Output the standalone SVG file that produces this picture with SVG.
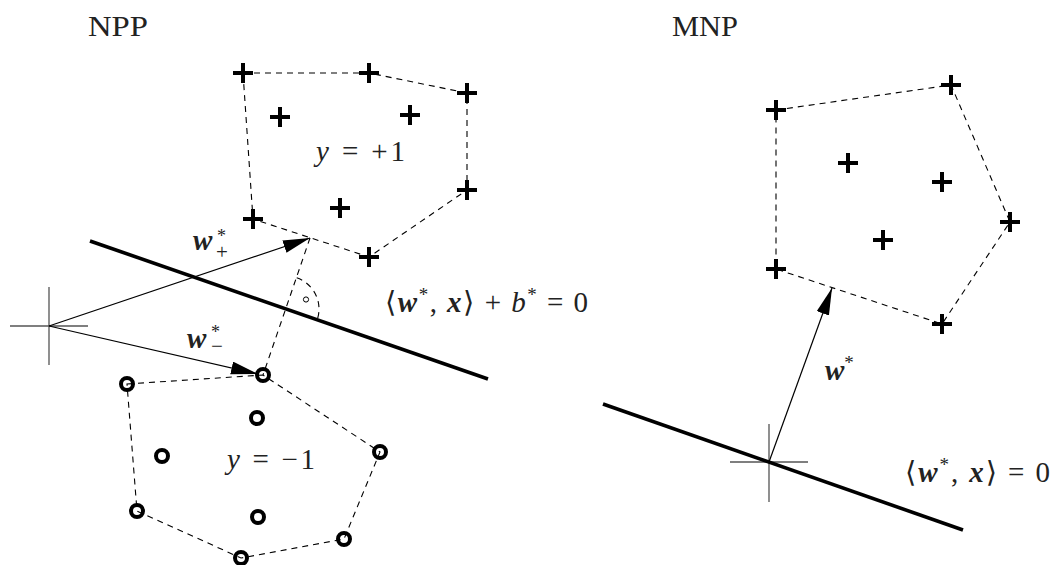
<svg xmlns="http://www.w3.org/2000/svg" xmlns:xlink="http://www.w3.org/1999/xlink" width="1053" height="565" viewBox="0 0 1053 565">
<style>
.t{font-family:"Liberation Serif","DejaVu Serif",serif;fill:#222;}
.m{font-family:"Liberation Serif","DejaVu Serif",serif;fill:#222;font-style:italic;}
.bw{font-weight:bold;font-style:italic;}
.hull{fill:none;stroke:#000;stroke-width:1.1;stroke-dasharray:6 5;}
.hyp{stroke:#000;stroke-width:3.6;fill:none;}
.vec{stroke:#000;stroke-width:1.2;fill:none;}
.axis{stroke:#555;stroke-width:1.3;fill:none;}
.pt{stroke:#000;stroke-width:4;fill:none;}
</style>
<defs>
<marker id="ah" markerUnits="userSpaceOnUse" markerWidth="30" markerHeight="16" refX="27" refY="6.5" orient="auto">
<path d="M0,0 L27,6.5 L0,13 Z" fill="#000"/>
</marker>
<g id="plus"><path class="pt" d="M-10,0 H10 M0,-10 V10"/></g>
<g id="circ"><circle class="pt" r="6" stroke-width="3.3"/></g>
</defs>

<text class="t" x="88" y="36" font-size="30" textLength="60" lengthAdjust="spacingAndGlyphs">NPP</text>
<text class="t" x="672" y="36" font-size="30" textLength="66" lengthAdjust="spacingAndGlyphs">MNP</text>

<g id="connectors">
<!-- left panel -->
<path class="hull" d="M243,73 L369,73 L467,93 L467,190 L369,257 L253,219 Z"/>
<path class="hull" d="M127,384 L263,375 L380,452 L344,539 L241,558 L137,511 Z"/>
<path class="hull" d="M310,238 L263,375"/>
<path class="hull" d="M296.7,277.8 A33,33 0 0 1 317.2,319.8"/>
<circle cx="306" cy="299.5" r="2.6" fill="none" stroke="#000" stroke-width="1"/>
<path class="axis" d="M10,326 H88 M49,287 V365"/>
<path class="hyp" d="M90,241 L488,379"/>
<path class="vec" d="M49,326 L310,238" marker-end="url(#ah)"/>
<path class="vec" d="M49,326 L258,374" marker-end="url(#ah)"/>
<!-- right panel -->
<path class="hull" d="M776,110 L951,85 L1010,222 L942,324 L776,269 Z"/>
<path class="axis" d="M730,462 H808 M769,424 V502"/>
<path class="hyp" d="M603,404 L963,530"/>
<path class="vec" d="M769,462 L832,288" marker-end="url(#ah)"/>
</g>

<g id="pos-left">
<use xlink:href="#plus" x="243" y="73"/>
<use xlink:href="#plus" x="369" y="73"/>
<use xlink:href="#plus" x="467" y="93"/>
<use xlink:href="#plus" x="280" y="117"/>
<use xlink:href="#plus" x="410" y="115"/>
<use xlink:href="#plus" x="467" y="190"/>
<use xlink:href="#plus" x="340" y="208"/>
<use xlink:href="#plus" x="253" y="219"/>
<use xlink:href="#plus" x="369" y="257"/>
</g>
<g id="neg-left">
<use xlink:href="#circ" x="127" y="384"/>
<use xlink:href="#circ" x="263" y="375"/>
<use xlink:href="#circ" x="257" y="418"/>
<use xlink:href="#circ" x="162" y="456"/>
<use xlink:href="#circ" x="380" y="452"/>
<use xlink:href="#circ" x="137" y="511"/>
<use xlink:href="#circ" x="258" y="517"/>
<use xlink:href="#circ" x="344" y="539"/>
<use xlink:href="#circ" x="241" y="558"/>
</g>
<g id="pos-right">
<use xlink:href="#plus" x="776" y="110"/>
<use xlink:href="#plus" x="951" y="85"/>
<use xlink:href="#plus" x="848" y="163"/>
<use xlink:href="#plus" x="942" y="182"/>
<use xlink:href="#plus" x="1010" y="222"/>
<use xlink:href="#plus" x="883" y="240"/>
<use xlink:href="#plus" x="776" y="269"/>
<use xlink:href="#plus" x="942" y="324"/>
</g>

<g id="labels">
<text class="m" x="316" y="161" font-size="29" textLength="89">y <tspan font-style="normal">= +1</tspan></text>
<text class="m" x="227" y="469" font-size="29" textLength="88">y <tspan font-style="normal">= −1</tspan></text>
<text class="t" x="193" y="250" font-size="29"><tspan class="bw">w</tspan></text>
<text class="t" x="217" y="242" font-size="18">*</text>
<text class="t" x="216" y="259" font-size="21">+</text>
<text class="t" x="187" y="348" font-size="29"><tspan class="bw">w</tspan></text>
<text class="t" x="211" y="338" font-size="18">*</text>
<text class="t" x="211" y="353" font-size="21">−</text>
<text class="t" x="385" y="312" font-size="29" textLength="203">⟨<tspan class="bw">w</tspan><tspan font-size="19" dy="-11">*</tspan><tspan dy="11">, </tspan><tspan class="bw">x</tspan>⟩ + <tspan font-style="italic">b</tspan><tspan font-size="19" dy="-11">*</tspan><tspan dy="11"> = 0</tspan></text>
<text class="t" x="825" y="380" font-size="29"><tspan class="bw">w</tspan><tspan font-size="19" dy="-11">*</tspan></text>
<text class="t" x="905" y="482" font-size="29" textLength="145">⟨<tspan class="bw">w</tspan><tspan font-size="19" dy="-11">*</tspan><tspan dy="11">, </tspan><tspan class="bw">x</tspan>⟩ = 0</text>
</g>
</svg>
